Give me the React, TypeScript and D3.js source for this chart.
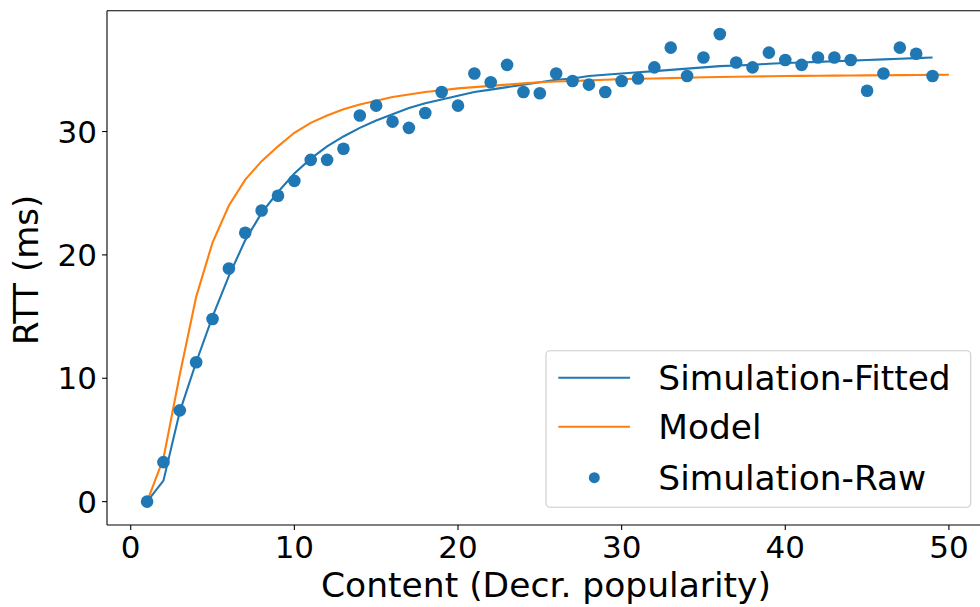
import React from "react";
import * as d3 from "d3";

const rawX: number[] = Array.from({ length: 49 }, (_, i) => i + 1);
const rawY: number[] = [
  0, 3.2, 7.4, 11.3, 14.8, 18.9, 21.8, 23.6, 24.8, 26.0,
  27.7, 27.7, 28.6, 31.3, 32.1, 30.8, 30.3, 31.5, 33.2, 32.1,
  34.7, 34.0, 35.4, 33.2, 33.1, 34.7, 34.1, 33.8, 33.2, 34.1,
  34.3, 35.2, 36.8, 34.5, 36.0, 37.9, 35.6, 35.2, 36.4, 35.8,
  35.4, 36.0, 36.0, 35.8, 33.3, 34.7, 36.8, 36.3, 34.5,
];
const fittedY: number[] = [
  0, 1.7, 7.3, 11.3, 15.0, 18.3, 21.2, 23.4, 25.1, 26.6,
  27.8, 28.8, 29.6, 30.3, 30.9, 31.4, 31.9, 32.3, 32.6, 32.9,
  33.2, 33.4, 33.6, 33.8, 34.0, 34.2, 34.3, 34.5, 34.6, 34.7,
  34.8, 34.9, 35.0, 35.1, 35.2, 35.3, 35.35, 35.4, 35.5, 35.55,
  35.6, 35.65, 35.7, 35.75, 35.8, 35.85, 35.9, 35.95, 36.0,
];
const modelX: number[] = Array.from({ length: 50 }, (_, i) => i + 1);
const modelY: number[] = [
  0, 3.5, 10.3, 16.6, 21.0, 24.0, 26.1, 27.6, 28.8, 29.9,
  30.7, 31.3, 31.8, 32.2, 32.5, 32.8, 33.0, 33.2, 33.35, 33.5,
  33.6, 33.7, 33.8, 33.9, 34.0, 34.05, 34.1, 34.15, 34.2, 34.25,
  34.28, 34.3, 34.33, 34.36, 34.4, 34.42, 34.44, 34.46, 34.48, 34.5,
  34.51, 34.52, 34.53, 34.54, 34.55, 34.56, 34.57, 34.58, 34.59, 34.6,
];
const xTicks: number[] = [0, 10, 20, 30, 40, 50];
const yTicks: number[] = [0, 10, 20, 30];
const legendLabels: string[] = ["Simulation-Fitted", "Model", "Simulation-Raw"];

const W = 980;
const H = 607;
const L = 107, R = 989, T = 10.7, B = 525;
const BLUE = "#1f77b4";
const ORANGE = "#ff7f0e";
const FONT = "'DejaVu Sans', sans-serif";

export default function App() {
  const x = d3.scaleLinear().domain([-1.45, 52.45]).range([L, R]);
  const y = d3.scaleLinear().domain([-1.895, 39.795]).range([B, T]);
  const line = d3
    .line<[number, number]>()
    .x((d) => x(d[0]))
    .y((d) => y(d[1]));
  const fittedPath = line(rawX.map((v, i) => [v, fittedY[i]]) as [number, number][]) || "";
  const modelPath = line(modelX.map((v, i) => [v, modelY[i]]) as [number, number][]) || "";

  const lx = 546, ly = 350.7, lw = 424.7, lh = 156.6;
  const rows = [377.7, 426.7, 477.7];

  return (
    <svg
      width={W}
      height={H}
      style={{ position: "absolute", left: 0, top: 0, background: "#fff" }}
      fontFamily={FONT}
    >
      <rect x={0} y={0} width={W} height={H} fill="#fff" />
      <path d={fittedPath} fill="none" stroke={BLUE} strokeWidth={2.1} />
      <path d={modelPath} fill="none" stroke={ORANGE} strokeWidth={2.1} />
      {rawX.map((v, i) => (
        <circle key={i} cx={x(v)} cy={y(rawY[i])} r={6.3} fill={BLUE} />
      ))}
      {/* spines */}
      <line x1={L} y1={T} x2={L} y2={B} stroke="#000" strokeWidth={1.1} />
      <line x1={L} y1={B} x2={R} y2={B} stroke="#000" strokeWidth={1.1} />
      <line x1={L} y1={T} x2={R} y2={T} stroke="#000" strokeWidth={1.1} />
      <line x1={R} y1={T} x2={R} y2={B} stroke="#000" strokeWidth={1.1} />
      {/* x ticks */}
      {xTicks.map((t) => (
        <g key={"x" + t}>
          <line x1={x(t)} x2={x(t)} y1={B} y2={B + 4.9} stroke="#000" strokeWidth={1.1} />
          <text x={x(t)} y={557.5} textAnchor="middle" fontSize={31} fill="#000">
            {t}
          </text>
        </g>
      ))}
      {/* y ticks */}
      {yTicks.map((t) => (
        <g key={"y" + t}>
          <line x1={L - 4.9} x2={L} y1={y(t)} y2={y(t)} stroke="#000" strokeWidth={1.1} />
          <text x={97} y={y(t) + 11.2} textAnchor="end" fontSize={31} fill="#000">
            {t}
          </text>
        </g>
      ))}
      <text x={(L + R) / 2 - 2} y={596.5} textAnchor="middle" fontSize={34.5} fill="#000">
        Content (Decr. popularity)
      </text>
      <text
        transform={`translate(38, ${(T + B) / 2 + 2}) rotate(-90)`}
        textAnchor="middle"
        fontSize={34}
        fill="#000"
      >
        RTT (ms)
      </text>
      {/* legend */}
      <rect x={lx} y={ly} width={lw} height={lh} rx={4} fill="#fff" fillOpacity={0.8} stroke="#ccc" strokeWidth={1.1} />
      <line x1={558.3} x2={630} y1={rows[0]} y2={rows[0]} stroke={BLUE} strokeWidth={2.1} />
      <line x1={558.3} x2={630} y1={rows[1]} y2={rows[1]} stroke={ORANGE} strokeWidth={2.1} />
      <circle cx={594.3} cy={rows[2]} r={5.5} fill={BLUE} />
      {legendLabels.map((s, i) => (
        <text key={s} x={658.3} y={rows[i] + 12.3} fontSize={34.4} fill="#000">
          {s}
        </text>
      ))}
    </svg>
  );
}
